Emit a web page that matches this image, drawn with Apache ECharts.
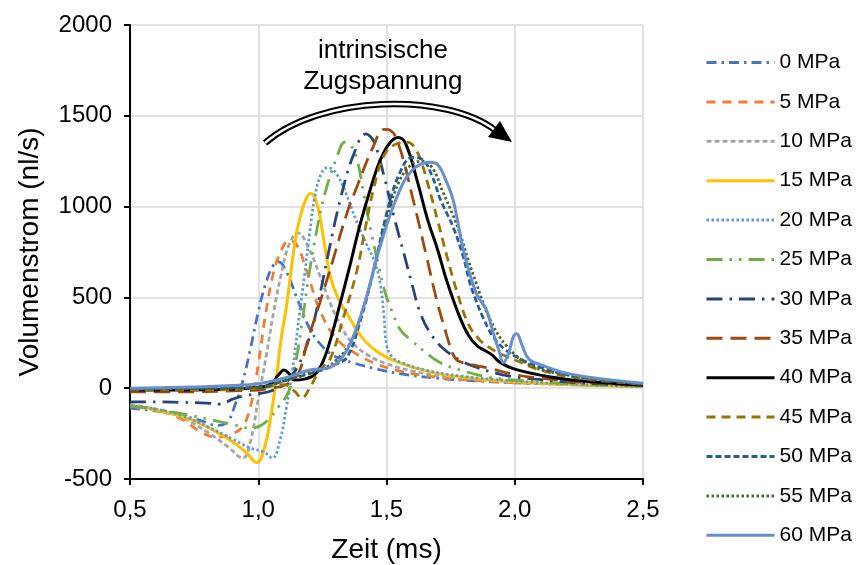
<!DOCTYPE html>
<html><head><meta charset="utf-8">
<script src="https://cdn.jsdelivr.net/npm/echarts@6/dist/echarts.min.js"></script>
<style>html,body{margin:0;padding:0;background:#fff}#c{width:856px;height:565px}</style>
</head><body><div id="c"></div>
<script>
// ---- data ----
const seriesNames = ['0 MPa','5 MPa','10 MPa','15 MPa','20 MPa','25 MPa','30 MPa','35 MPa','40 MPa','45 MPa','50 MPa','55 MPa','60 MPa'];
const xTicks = [0.5, 1.0, 1.5, 2.0, 2.5];
const yTicks = [-500, 0, 500, 1000, 1500, 2000];
const xName = 'Zeit (ms)';
const yName = 'Volumenstrom (nl/s)';
const noteText = 'intrinsische\nZugspannung';

const mpa0 = [[0.5,-110],[0.6,-125],[0.7,-150],[0.78,-180],[0.84,-205],[0.88,-185],[0.91,-90],[0.94,40],[0.97,220],[1.0,420],[1.03,580],[1.06,680],[1.08,695],[1.11,640],[1.15,500],[1.2,330],[1.25,230],[1.3,175],[1.37,140],[1.45,110],[1.55,80],[1.7,55],[1.85,40],[2.0,30],[2.25,18],[2.5,10]];
const mpa5 = [[0.5,-100],[0.6,-120],[0.7,-170],[0.78,-245],[0.84,-270],[0.9,-250],[0.94,-210],[0.97,-100],[1.0,130],[1.03,420],[1.06,640],[1.09,760],[1.12,815],[1.15,790],[1.19,640],[1.24,430],[1.3,280],[1.37,200],[1.45,140],[1.55,95],[1.7,60],[1.85,42],[2.0,30],[2.25,18],[2.5,10]];
const mpa10 = [[0.5,-90],[0.6,-115],[0.7,-160],[0.8,-240],[0.88,-320],[0.94,-385],[0.97,-290],[1.0,-60],[1.03,170],[1.06,420],[1.09,630],[1.12,790],[1.155,855],[1.2,760],[1.24,620],[1.28,470],[1.32,350],[1.36,260],[1.43,180],[1.5,135],[1.6,95],[1.75,60],[2.0,35],[2.25,20],[2.5,10]];
const mpa15 = [[0.5,-95],[0.6,-120],[0.7,-155],[0.76,-185],[0.83,-235],[0.89,-285],[0.95,-350],[0.995,-410],[1.02,-350],[1.045,-190],[1.07,50],[1.09,280],[1.11,450],[1.13,670],[1.15,860],[1.18,1020],[1.205,1073],[1.23,1010],[1.255,820],[1.28,620],[1.31,500],[1.35,400],[1.41,270],[1.47,195],[1.54,145],[1.67,90],[1.8,60],[2.0,35],[2.25,18],[2.5,10]];
const mpa20 = [[0.5,-95],[0.6,-115],[0.7,-150],[0.8,-210],[0.9,-280],[0.97,-330],[1.02,-350],[1.055,-385],[1.085,-285],[1.11,-105],[1.135,115],[1.16,400],[1.18,620],[1.2,850],[1.22,1050],[1.245,1180],[1.27,1215],[1.3,1190],[1.34,1080],[1.38,930],[1.42,800],[1.455,690],[1.475,580],[1.49,400],[1.5,240],[1.52,175],[1.56,140],[1.65,100],[1.8,65],[2.0,40],[2.25,20],[2.5,10]];
const mpa25 = [[0.5,-100],[0.6,-115],[0.7,-140],[0.82,-175],[0.9,-200],[0.97,-220],[1.01,-205],[1.045,-165],[1.08,-100],[1.115,-30],[1.14,100],[1.17,350],[1.195,600],[1.228,870],[1.26,1073],[1.306,1270],[1.338,1355],[1.36,1340],[1.385,1260],[1.41,1080],[1.44,860],[1.47,670],[1.495,525],[1.525,410],[1.555,320],[1.6,260],[1.65,200],[1.71,140],[1.8,95],[1.9,60],[2.0,45],[2.25,22],[2.5,12]];
const mpa30 = [[0.5,-75],[0.6,-75],[0.7,-78],[0.8,-82],[0.85,-88],[0.9,-60],[0.95,-40],[1.0,-30],[1.05,-15],[1.1,20],[1.15,110],[1.2,280],[1.235,480],[1.27,720],[1.32,1040],[1.37,1280],[1.42,1400],[1.45,1360],[1.49,1170],[1.53,940],[1.57,730],[1.6,570],[1.63,420],[1.67,305],[1.72,220],[1.786,155],[1.85,115],[1.93,82],[2.0,62],[2.25,30],[2.5,15]];
const mpa35 = [[0.5,-20],[0.7,-20],[0.9,-15],[1.0,-10],[1.05,0],[1.1,15],[1.13,40],[1.16,90],[1.19,250],[1.24,470],[1.29,700],[1.345,960],[1.385,1110],[1.447,1326],[1.49,1425],[1.515,1420],[1.55,1330],[1.6,1060],[1.657,720],[1.696,484],[1.735,290],[1.76,185],[1.78,150],[1.85,125],[1.9,110],[2.0,75],[2.1,55],[2.25,35],[2.5,15]];
const mpa40 = [[0.5,-10],[0.7,-10],[0.9,-5],[1.0,5],[1.05,25],[1.08,75],[1.1,100],[1.12,80],[1.14,45],[1.18,50],[1.22,75],[1.25,140],[1.28,260],[1.318,460],[1.36,690],[1.396,897],[1.44,1110],[1.474,1250],[1.51,1345],[1.545,1380],[1.575,1345],[1.62,1140],[1.66,930],[1.7,760],[1.735,590],[1.786,390],[1.82,290],[1.852,235],[1.88,210],[1.91,185],[1.94,145],[2.0,105],[2.14,62],[2.3,35],[2.5,18]];
const mpa45 = [[0.5,-10],[0.8,-10],[1.0,0],[1.1,20],[1.14,-15],[1.17,-55],[1.2,0],[1.24,100],[1.28,160],[1.33,380],[1.385,650],[1.42,900],[1.45,1100],[1.49,1280],[1.53,1340],[1.58,1355],[1.62,1300],[1.66,1130],[1.7,920],[1.735,730],[1.775,530],[1.82,350],[1.864,265],[1.9,225],[1.95,185],[2.01,150],[2.1,100],[2.25,55],[2.5,22]];
const mpa50 = [[0.5,-5],[0.8,0],[1.0,5],[1.1,40],[1.2,80],[1.27,110],[1.3,130],[1.346,170],[1.4,380],[1.45,650],[1.5,960],[1.55,1180],[1.6,1271],[1.64,1260],[1.68,1160],[1.71,1040],[1.76,886],[1.8,720],[1.825,580],[1.85,480],[1.876,390],[1.915,285],[1.96,215],[2.01,170],[2.1,115],[2.25,62],[2.5,22]];
const mpa55 = [[0.5,-5],[0.8,0],[1.0,5],[1.1,40],[1.2,85],[1.27,120],[1.3,150],[1.35,230],[1.4,400],[1.45,650],[1.5,930],[1.55,1140],[1.6,1235],[1.64,1250],[1.68,1210],[1.72,1080],[1.76,950],[1.786,853],[1.82,700],[1.85,578],[1.9,390],[1.97,230],[2.07,120],[2.2,75],[2.35,45],[2.5,22]];
const mpa60 = [[0.5,0],[0.7,5],[0.9,15],[1.0,25],[1.1,55],[1.2,100],[1.28,115],[1.346,210],[1.41,446],[1.474,776],[1.54,1050],[1.6,1200],[1.67,1244],[1.7,1230],[1.73,1150],[1.76,1035],[1.8,760],[1.85,523],[1.89,430],[1.915,310],[1.94,200],[1.955,140],[1.975,190],[1.995,285],[2.008,300],[2.025,250],[2.045,180],[2.065,150],[2.1,130],[2.2,83],[2.35,50],[2.5,27]];

const seriesData = [mpa0, mpa5, mpa10, mpa15, mpa20, mpa25, mpa30, mpa35, mpa40, mpa45, mpa50, mpa55, mpa60];

// ---- styles ----
const colors = ['#4472C4','#ED7D31','#A5A5A5','#FFC000','#5B9BD5','#70AD47','#264478','#9E480E','#000000','#997300','#255E91','#43682B','#698ED0'];
const dashes = [[10,5,2.5,5],[9,7],[5,3],'solid',[2.5,2.5],[16,7,2.5,7,2.5,7],[16,7,2.5,7],[16,8],'solid',[9,6],[6,3],[2.5,2.5],'solid'];
const FONT = '"Liberation Sans", Arial, sans-serif';

const chart = echarts.init(document.getElementById('c'), null, {renderer: 'canvas'});
const fmtX = v => v.toFixed(1).replace('.', ',');
const fmtY = v => String(v);

chart.setOption({
  animation: false,
  backgroundColor: '#fff',
  grid: {left: 130, right: 213, top: 25, bottom: 86, containLabel: false, outerBoundsMode: 'none'},
  legend: {
    orient: 'vertical', left: 705, top: 52, itemWidth: 68, itemHeight: 14, itemGap: 18.4, padding: 0,
    itemStyle: {opacity: 0},
    lineStyle: {width: 3},
    textStyle: {fontFamily: FONT, fontSize: 21, color: '#000'},
    data: seriesNames
  },
  xAxis: {
    type: 'value', min: xTicks[0], max: xTicks[xTicks.length - 1], interval: xTicks[1] - xTicks[0],
    name: xName, nameLocation: 'middle', nameGap: 57,
    nameTextStyle: {fontFamily: FONT, fontSize: 28, color: '#000'},
    axisLine: {onZero: false, lineStyle: {color: '#000', width: 2}},
    axisTick: {show: true, length: 6, lineStyle: {color: '#000', width: 2}},
    axisLabel: {formatter: fmtX, fontFamily: FONT, fontSize: 24, color: '#000', margin: 19},
    splitLine: {show: true, lineStyle: {color: '#D9D9D9', width: 1.5}}
  },
  yAxis: {
    type: 'value', min: yTicks[0], max: yTicks[yTicks.length - 1], interval: yTicks[1] - yTicks[0],
    name: yName, nameLocation: 'middle', nameGap: 86,
    nameTextStyle: {fontFamily: FONT, fontSize: 28, color: '#000'},
    axisLine: {show: true, lineStyle: {color: '#000', width: 2}},
    axisTick: {show: true, length: 6, lineStyle: {color: '#000', width: 2}},
    axisLabel: {formatter: fmtY, fontFamily: FONT, fontSize: 24, color: '#000', margin: 18},
    splitLine: {show: true, lineStyle: {color: '#D9D9D9', width: 1.5}}
  },
  series: seriesNames.map((n, i) => ({
    name: n, type: 'line', data: seriesData[i], showSymbol: false, symbol: 'none',
    smooth: 0.4,
    lineStyle: {color: colors[i], width: (dashes[i] === 'solid') ? 3 : 2.75, type: dashes[i]},
    itemStyle: {color: colors[i]},
    z: 2 + i
  })),
  graphic: [
    {type: 'bezierCurve', z: 50, shape: {x1: 265, y1: 143, cpx1: 320, cpy1: 95, cpx2: 445, cpy2: 92, x2: 495, y2: 130},
     style: {stroke: '#000', lineWidth: 6.5, fill: null}},
    {type: 'bezierCurve', z: 51, shape: {x1: 265, y1: 143, cpx1: 320, cpy1: 95, cpx2: 445, cpy2: 92, x2: 495, y2: 130},
     style: {stroke: '#fff', lineWidth: 2.5, fill: null}},
    {type: 'polygon', z: 52, shape: {points: [[488, 137], [500, 121], [512, 142]]}, style: {fill: '#000'}},
    {type: 'text', z: 53, x: 383, y: 35,
     style: {text: noteText, font: '26px ' + FONT, fill: '#000', align: 'center', verticalAlign: 'top', lineHeight: 31}}
  ]
});
</script></body></html>
